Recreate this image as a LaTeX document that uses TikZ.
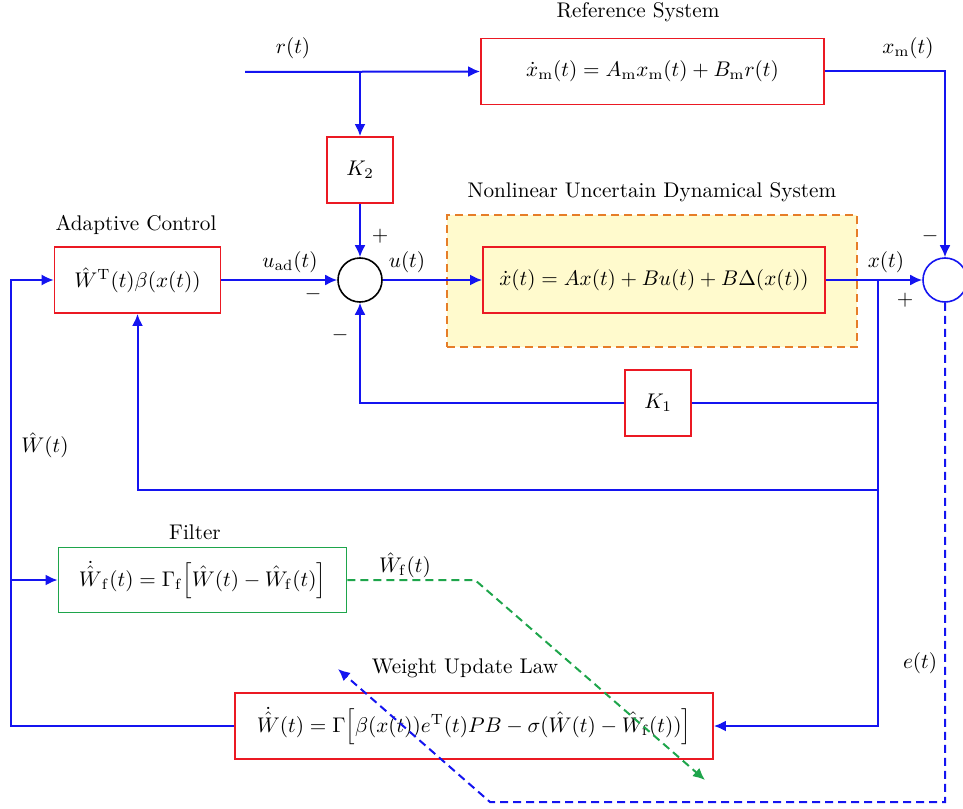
\documentclass[tikz,border=0pt]{standalone}
\usepackage{fix-cm}
\usetikzlibrary{arrows.meta}
\definecolor{bl}{RGB}{20,20,240}
\definecolor{rd}{RGB}{235,25,35}
\definecolor{gr}{RGB}{30,165,75}
\definecolor{og}{RGB}{230,125,40}
\definecolor{yl}{RGB}{255,250,205}
\tikzset{
  blk/.style={draw=rd, line width=0.9pt, minimum height=33pt, inner sep=0pt},
  sumc/.style={circle, draw, line width=0.8pt, minimum size=22pt, inner sep=0pt},
  wire/.style={draw=bl, line width=1pt},
  thinwire/.style={draw=bl, line width=0.75pt},
  arr/.style={-{Latex[length=6pt,width=5.5pt]}},
  lab/.style={inner sep=0pt},
}
\begin{document}
\begin{tikzpicture}[x=0.5pt,y=-0.5pt, font=\fontsize{10.6}{13}\selectfont]
\useasboundingbox (0,0) rectangle (963,808);
% dashed system frame
\node[draw=og, fill=yl, dashed, dash pattern=on 4pt off 2.5pt, line width=0.9pt,
      minimum width=205pt, minimum height=66pt, inner sep=0pt] (frame) at (652,281) {};
% blocks
\node[blk, minimum width=171.5pt, minimum height=33pt] (ref) at (652.5,71.5) {$\dot{x}_{\mathrm{m}}(t)=A_{\mathrm{m}}x_{\mathrm{m}}(t)+B_{\mathrm{m}}r(t)$};
\node[blk, minimum width=33pt] (K2) at (360,170) {$K_2$};
\node[blk, minimum width=83pt] (adapt) at (137.5,280) {$\hat{W}^{\mathrm{T}}(t)\beta(x(t))$};
\node[blk, minimum width=171pt] (sys) at (654,280) {$\dot{x}(t)=Ax(t)+Bu(t)+B\Delta(x(t))$};
\node[blk, minimum width=33pt] (K1) at (658,403) {$K_1$};
\node[blk, draw=gr, minimum width=144pt, minimum height=32.5pt] (filt) at (202.5,580) {$\dot{\hat{W}}_{\mathrm{f}}(t)=\Gamma_{\mathrm{f}}\Big[\hat{W}(t)-\hat{W}_{\mathrm{f}}(t)\Big]$};
\node[blk, minimum width=239pt] (wul) at (474,726) {$\dot{\hat{W}}(t)=\Gamma\Big[\beta(x(t))e^{\mathrm{T}}(t)PB-\sigma\big(\hat{W}(t)-\hat{W}_{\mathrm{f}}(t)\big)\Big]$};
\node[sumc] (s1) at (360,280) {};
\node[sumc, draw=bl] (s2) at (945,280) {};
% titles
\node[lab] (t1) at (638,12) {Reference System};
\node[lab] (t2) at (652,192) {Nonlinear Uncertain Dynamical System};
\node[lab] (t3) at (136,225) {Adaptive Control};
\node[lab] (t4) at (195,532) {Filter};
\node[lab] (t5) at (465,668) {Weight Update Law};
% signal labels
\node[lab] (lr) at (293,48) {$r(t)$};
\node[lab] (lxm) at (908,48) {$x_{\mathrm{m}}(t)$};
\node[lab] (luad) at (290,262) {$u_{\mathrm{ad}}(t)$};
\node[lab] (lu) at (407,262) {$u(t)$};
\node[lab] (lx) at (886,262) {$x(t)$};
\node[lab] (p1) at (380,236) {$+$};
\node[lab] (m1) at (313,294) {$-$};
\node[lab] (m2) at (340,335) {$-$};
\node[lab] (m3) at (930,236) {$-$};
\node[lab] (p2) at (905,300) {$+$};
\node[lab] (lW) at (45,445) {$\hat{W}(t)$};
\node[lab] (lWf) at (405,565) {$\hat{W}_{\mathrm{f}}(t)$};
\node[lab] (le) at (920,663) {$e(t)$};
% coordinates
\coordinate (rin) at (245,72);
\coordinate (rb) at (360,72);
\coordinate (xb) at (878,280);
\coordinate (xk) at (878,403);
\coordinate (xa) at (878,490);
\coordinate (lc) at (11,280);
\coordinate (lf) at (11,580);
\coordinate (g1) at (475,580);
\coordinate (g2) at (705,780);
\coordinate (e1) at (945,802);
\coordinate (e2) at (490,802);
\coordinate (e3) at (338,669);
% wires
\draw[wire, arr] (rin) -- (ref.west);
\draw[wire, arr] (rb) -- (K2.north);
\draw[wire, arr] (K2.south) -- (s1.north);
\draw[wire, arr] (adapt.east) -- (s1.west);
\draw[wire, arr] (s1.east) -- (sys.west);
\draw[wire, arr] (sys.east) -- (s2.west);
\draw[wire, arr] (ref.east) -| (s2.north);
\draw[wire, arr] (xb) |- (wul.east);
\draw[thinwire] (xk) -- (K1.east);
\draw[wire, arr] (K1.west) -| (s1.south);
\draw[wire, arr] (xa) -| (adapt.south);
\draw[thinwire, arr] (wul.west) -| (lc) -- (adapt.west);
\draw[wire, arr] (lf) -- (filt.west);
\draw[draw=gr, line width=1pt, dashed, dash pattern=on 4pt off 2.5pt, arr] (filt.east) -- (g1) -- (g2);
\draw[wire, dashed, dash pattern=on 4pt off 2.5pt, arr] (s2.south) -- (e1) -- (e2) -- (e3);
\end{tikzpicture}
\end{document}
